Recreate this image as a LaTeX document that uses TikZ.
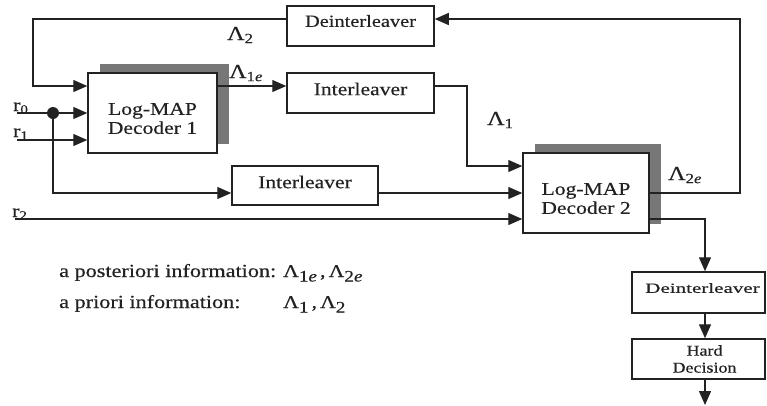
\documentclass[tikz,border=0pt]{standalone}
\usepackage{fontspec}
\setmainfont{Liberation Serif}[FakeStretch=1.2,FakeBold=0.4]
\usetikzlibrary{arrows.meta,shadows}
\definecolor{linec}{HTML}{222222}
\definecolor{shgray}{HTML}{777777}
\newcommand{\fsz}[1]{\fontsize{#1}{#1}\selectfont}
\newcommand{\lsub}[1]{\raisebox{-4.5pt}{\fsz{16}#1}}
\begin{document}
\begin{tikzpicture}[x=1pt,y=-1pt,
  conn/.style={draw=linec, line width=1.3pt},
  arr/.style={conn, -{Triangle[length=14pt,width=12pt]}},
  box/.style={draw=linec, line width=1.5pt, fill=white, inner sep=0pt},
  shbox/.style={box, drop shadow={shadow xshift=12pt, shadow yshift=9pt, opacity=1, fill=shgray}},
  boxtext/.style={font=\fsz{18}, text=linec, align=center, inner sep=0pt},
  dectext/.style={font=\fontsize{18}{19}\selectfont, text=linec, align=center, inner sep=0pt},
  lab/.style={font=\fsz{20}, text=linec, inner sep=0pt, anchor=base west},
  rlab/.style={font=\fsz{18}, text=linec, inner sep=0pt, anchor=base west},
  note/.style={font=\fsz{18.5}, text=linec, inner sep=0pt, anchor=base west}
]
\useasboundingbox (0,0) rectangle (767,405);

% boxes
\node[box, minimum width=147pt, minimum height=40pt,
  label={[boxtext,font=\fsz{17},yshift=5pt]center:Deinterleaver}] (deint1) at (360.5,26) {};
\node[box, minimum width=147pt, minimum height=40pt,
  label={[boxtext,yshift=4pt]center:Interleaver}] (int1) at (360.5,93) {};
\node[shbox, minimum width=129pt, minimum height=80pt,
  label={[dectext,yshift=-5.5pt]center:{Log-MAP\\Decoder 1}}] (dec1) at (152.5,113) {};
\node[box, minimum width=146pt, minimum height=39pt,
  label={[boxtext,yshift=3.5pt]center:Interleaver}] (int2) at (305,185.5) {};
\node[shbox, minimum width=126pt, minimum height=80pt,
  label={[dectext,yshift=-5.5pt]center:{Log-MAP\\Decoder 2}}] (dec2) at (586,193) {};
\node[box, minimum width=133pt, minimum height=41pt,
  label={[boxtext,font=\fsz{14},yshift=4.5pt,xshift=4pt]center:\scalebox{1.25}[1]{Deinterleaver}}] (deint2) at (698.5,292.5) {};
\node[box, minimum width=133pt, minimum height=40pt,
  label={[boxtext,font=\fontsize{15}{17}\selectfont,xshift=6pt]center:{Hard\\Decision}}] (hard) at (698.5,359) {};

% input coordinates
\coordinate (r0s) at (17,113);
\coordinate (r1s) at (17,140);
\coordinate (r2s) at (15,219);
\coordinate (out) at (705,405);

% connectors
\draw[arr] (r0s) -- (r0s -| dec1.west);
\draw[arr] (r1s) -- (r1s -| dec1.west);
\node[circle, fill=linec, inner sep=0pt, minimum size=12pt] (dot) at (53,113) {};
\draw[arr] (dot) |- (int2.west |- 0,193);
\draw[arr] (int2.east |- 0,193) -- (dec2.west |- 0,193);
\draw[arr] (r2s) -- (r2s -| dec2.west);
\draw[arr] (dec1.east |- 0,86) -- (int1.west |- 0,86);
\draw[arr] (int1.east |- 0,86) -| (467,166) -- (dec2.west |- 0,166);
\draw[arr] (dec2.east |- 0,193) -| (740,19) -- (deint1.east |- 0,19);
\draw[arr] (deint1.west |- 0,19) -| (33,86) -- (dec1.west |- 0,86);
\draw[arr] (dec2.east |- 0,219) -| (705,0 |- deint2.north);
\draw[arr] (705,0 |- deint2.south) -- (705,0 |- hard.north);
\draw[arr] (705,0 |- hard.south) -- (out);

% labels
\node[rlab] (r0l) at (13,111) {r\textsubscript{0}};
\node[rlab] (r1l) at (13,137) {r\textsubscript{1}};
\node[rlab] (r2l) at (12,217) {r\textsubscript{2}};
\node[lab] (L2) at (227,40) {Λ\textsubscript{2}};
\node[lab] (L1e) at (229,78) {Λ\textsubscript{1\textit{e}}};
\node[lab] (L1) at (487,125) {Λ\textsubscript{1}};
\node[lab] (L2e) at (668,180) {Λ\textsubscript{2\textit{e}}};

% notes
\node[note] (n1) at (59,277) {\makebox[224pt][l]{a posteriori information:}{\fsz{18}Λ}\lsub{1\textit{e}}\,,\,{\fsz{18}Λ}\lsub{2\textit{e}}};
\node[note] (n2) at (59,308) {\makebox[224pt][l]{a priori information:}{\fsz{18}Λ}\lsub{1}\,,\,{\fsz{18}Λ}\lsub{2}};
\end{tikzpicture}
\end{document}
